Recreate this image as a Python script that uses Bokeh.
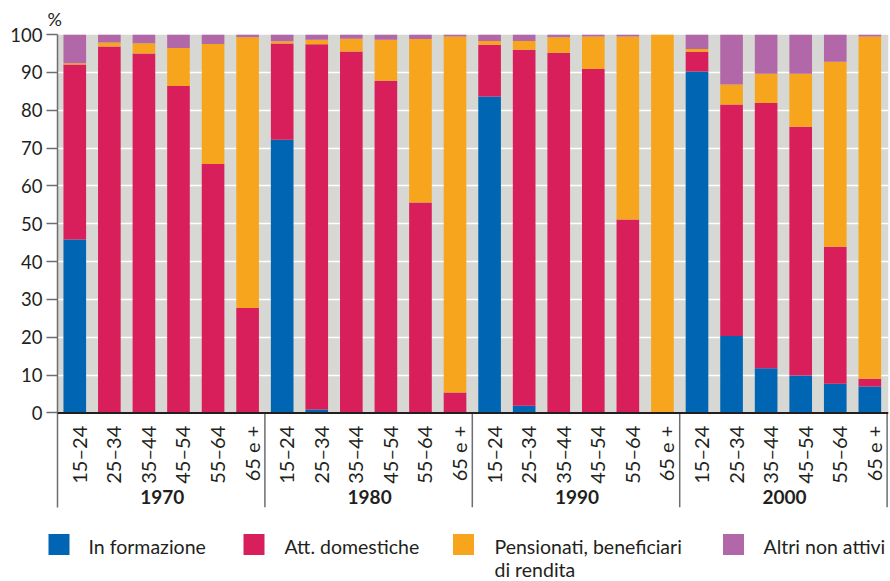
import math

from bokeh.core.properties import value
from bokeh.embed import file_html
from bokeh.layouts import column
from bokeh.models import BoxAnnotation, ColumnDataSource, FixedTicker, Range1d, Span
from bokeh.plotting import figure
from bokeh.resources import INLINE

# Non-labour-force women by age class and census year (% composition)
years = ["1970", "1980", "1990", "2000"]
ages = ["15–24", "25–34", "35–44", "45–54", "55–64", "65 e +"]
series_labels = [
    "In formazione",
    "Att. domestiche",
    "Pensionati, beneficiari\ndi rendita",
    "Altri non attivi",
]

in_formazione = [45.8, 0.0, 0.0, 0.0, 0.0, 0.0,
                 72.2, 0.9, 0.0, 0.0, 0.0, 0.0,
                 83.6, 1.9, 0.0, 0.0, 0.0, 0.0,
                 90.2, 20.3, 11.8, 9.9, 7.7, 7.0]
att_domestiche = [46.3, 96.8, 95.0, 86.4, 65.8, 27.7,
                  25.4, 96.5, 95.5, 87.8, 55.6, 5.4,
                  13.7, 94.1, 95.2, 90.9, 51.1, 0.0,
                  5.2, 61.2, 70.1, 65.7, 36.2, 2.0]
pensionati = [0.3, 1.1, 2.7, 10.0, 31.7, 71.6,
              0.6, 1.2, 3.4, 10.8, 43.2, 94.1,
              1.0, 2.3, 4.1, 8.6, 48.4, 100.0,
              0.8, 5.3, 7.7, 14.0, 48.9, 90.5]
altri_non_attivi = [7.6, 2.1, 2.3, 3.6, 2.5, 0.7,
                    1.8, 1.4, 1.1, 1.4, 1.2, 0.5,
                    1.7, 1.7, 0.7, 0.5, 0.5, 0.0,
                    3.8, 13.2, 10.4, 10.4, 7.2, 0.5]

y_ticks = [0, 10, 20, 30, 40, 50, 60, 70, 80, 90, 100]

FONT = "Lato"
TEXT = "#231f20"
AXIS = "#6d6e71"
BG = "#d7d8d3"
colors = ["#0066b3", "#d81f5c", "#f7a51c", "#b268a8"]
keys = ["formazione", "domestiche", "pensionati", "altri"]

n_age = len(ages)
n_slots = len(years) * n_age
x_pos = [g * n_age + a + 0.5 for g in range(len(years)) for a in range(n_age)]

src = ColumnDataSource(dict(
    x=x_pos,
    formazione=in_formazione,
    domestiche=att_domestiche,
    pensionati=pensionati,
    altri=altri_non_attivi,
))

LOW = -25  # room under the axis for the category labels

p = figure(
    width=890, height=520,
    x_range=Range1d(0, n_slots + 0.04), y_range=Range1d(LOW, 100),
    x_axis_type=None,
    output_backend="svg", toolbar_location=None,
    min_border_left=57, min_border_right=2, min_border_top=34, min_border_bottom=13,
    outline_line_color=None, background_fill_color="white", border_fill_color="white",
    title="%",
)
p.frame_align = False
p.title.text_font = FONT
p.title.text_font_size = "18px"
p.title.text_font_style = "normal"
p.title.text_color = TEXT
p.title.align = "left"
p.title.offset = -10
p.title.standoff = 9

# grey plotting band from 0 to 100
p.add_layout(BoxAnnotation(bottom=0, top=100, fill_color=BG, fill_alpha=1.0,
                           line_color=None, level="image"))

p.ygrid.ticker = FixedTicker(ticks=y_ticks[1:-1])
p.ygrid.grid_line_color = "white"
p.ygrid.grid_line_width = 1.5
p.xgrid.visible = False

ax = p.yaxis[0]
ax.ticker = FixedTicker(ticks=y_ticks)
ax.bounds = (LOW, 100)
ax.axis_line_color = AXIS
ax.axis_line_width = 1.5
ax.major_tick_line_color = AXIS
ax.major_tick_line_width = 1.5
ax.major_tick_out = 11
ax.major_tick_in = 0
ax.minor_tick_line_color = None
ax.major_label_standoff = 4
ax.major_label_text_font = FONT
ax.major_label_text_font_size = "18.5px"
ax.major_label_text_color = TEXT

p.vbar_stack(keys, x="x", width=0.655, source=src,
             fill_color=colors, line_color=None)

# baseline at zero
p.add_layout(Span(location=0, dimension="width", line_color=TEXT, line_width=2))

# separators between census years
sep_x = [g * n_age for g in range(1, len(years) + 1)]
p.segment(x0=sep_x, y0=[0] * len(sep_x), x1=sep_x, y1=[LOW] * len(sep_x),
          line_color=AXIS, line_width=1.5)

# age-class labels, rotated
p.text(x=x_pos, y=[-3.4] * n_slots, text=ages * len(years),
       angle=math.pi / 2, text_align="right", text_baseline="middle",
       x_offset=4,
       text_font=value(FONT), text_font_size="20px", text_color=TEXT)

# census-year labels
year_x = [g * n_age + n_age / 2 for g in range(len(years))]
p.text(x=year_x, y=[-22.1] * len(years), text=years,
       text_align="center", text_baseline="middle", x_offset=1,
       text_font=value(FONT), text_font_size="19px", text_font_style="bold",
       text_color=TEXT)

# legend strip
lg = figure(
    width=890, height=61,
    x_range=Range1d(0, 890), y_range=Range1d(61, 0),
    x_axis_type=None, y_axis_type=None,
    output_backend="svg", toolbar_location=None,
    min_border=0, outline_line_color=None,
    background_fill_color="white", border_fill_color="white",
)
lg.frame_align = False
lg.xgrid.visible = False
lg.ygrid.visible = False

sw_x = [58.5, 253.5, 463, 733]
txt_x = [88, 284, 494, 763]
lg.rect(x=sw_x, y=[24] * 4, width=21, height=21, fill_color=colors, line_color=None)

lx, ly, lt = [], [], []
for tx, label in zip(txt_x, series_labels):
    for i, line in enumerate(label.split("\n")):
        lx.append(tx)
        ly.append(25.5 + 23.5 * i)
        lt.append(line)
lg.text(x=lx, y=ly, text=lt, text_align="left", text_baseline="middle",
        text_font=value(FONT), text_font_size="19.5px", text_color=TEXT)

layout = column(p, lg, spacing=0)

with open("out.html", "w") as f:
    f.write(file_html(layout, INLINE))
